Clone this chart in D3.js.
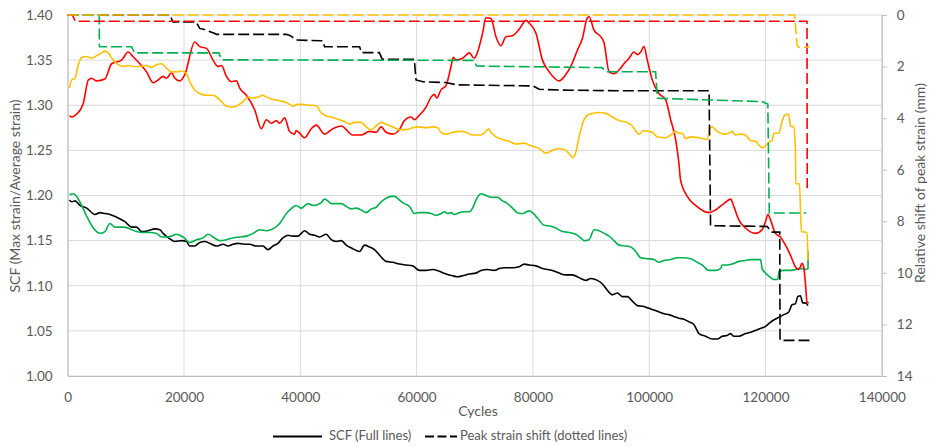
<!DOCTYPE html>
<html>
<head>
<meta charset="utf-8">
<script src="https://cdn.jsdelivr.net/npm/d3@7"></script>
<style>
  html, body { margin: 0; padding: 0; background: #fff; }
  svg text { font-family: Lato, "Open Sans", sans-serif; fill: #595959; }
</style>
</head>
<body>
<svg id="chart" width="932" height="446"></svg>
<script>
// ---- Data: [cycles, value] ----
// SCF (left axis), solid lines
const scfBlack = [[300,1.195],[690,1.193],[1250,1.194],[2110,1.189],[3260,1.186],[4690,1.179],[5550,1.181],[6400,1.180],[7260,1.179],[8410,1.176],[9840,1.171],[10990,1.165],[11850,1.165],[12700,1.160],[13840,1.161],[14990,1.163],[15850,1.162],[16410,1.158],[17560,1.152],[18420,1.149],[19570,1.150],[20430,1.149],[21000,1.144],[21850,1.144],[22710,1.148],[23570,1.149],[24430,1.147],[25580,1.144],[26710,1.146],[27570,1.144],[28430,1.146],[29290,1.147],[30440,1.146],[31300,1.146],[32450,1.144],[33580,1.144],[34440,1.140],[35300,1.144],[36150,1.147],[37010,1.153],[37870,1.156],[38730,1.155],[39590,1.155],[40170,1.158],[40740,1.161],[41600,1.157],[42460,1.156],[43310,1.154],[44460,1.157],[45320,1.151],[46180,1.149],[47040,1.150],[47900,1.145],[49030,1.141],[50180,1.138],[51040,1.145],[51900,1.143],[52760,1.140],[53610,1.134],[54760,1.127],[55900,1.126],[57050,1.124],[58200,1.123],[59330,1.122],[60480,1.117],[61630,1.117],[62760,1.118],[63910,1.116],[65060,1.113],[66200,1.111],[67050,1.110],[67910,1.111],[69060,1.113],[70210,1.114],[71070,1.117],[72200,1.118],[73350,1.117],[74210,1.119],[75070,1.120],[76500,1.120],[77650,1.121],[78500,1.124],[79360,1.123],[80510,1.122],[81650,1.119],[83360,1.117],[84510,1.114],[85660,1.112],[86800,1.112],[87950,1.109],[89100,1.106],[89950,1.108],[91090,1.106],[91950,1.102],[92800,1.095],[93660,1.090],[94520,1.092],[95380,1.088],[96240,1.088],[97100,1.083],[97950,1.078],[99100,1.077],[99960,1.075],[100820,1.073],[101680,1.071],[102540,1.069],[103400,1.068],[104250,1.066],[105110,1.064],[105970,1.063],[106830,1.060],[107690,1.057],[108550,1.047],[109700,1.044],[110830,1.041],[111690,1.041],[112550,1.044],[113400,1.045],[113990,1.047],[114550,1.044],[115410,1.044],[116560,1.047],[117700,1.049],[118850,1.052],[120000,1.055],[120560,1.058],[121420,1.062],[122280,1.065],[123140,1.068],[124000,1.071],[124560,1.079],[125150,1.080],[125540,1.088],[126000,1.089],[126400,1.081],[126860,1.081],[127310,1.078]];

const scfGreen = [[300,1.201],[960,1.202],[1550,1.199],[2400,1.189],[3260,1.177],[4400,1.164],[5550,1.158],[6400,1.160],[7260,1.169],[8120,1.165],[9550,1.165],[10700,1.163],[11850,1.160],[12980,1.159],[14130,1.159],[15280,1.158],[16140,1.154],[17000,1.154],[17850,1.155],[18710,1.157],[19850,1.154],[21000,1.148],[22150,1.151],[23280,1.153],[24140,1.157],[25000,1.154],[26150,1.150],[27300,1.151],[28430,1.153],[29580,1.154],[30730,1.155],[31860,1.158],[33010,1.162],[34160,1.161],[35300,1.163],[36450,1.169],[37600,1.180],[38730,1.187],[39310,1.189],[40170,1.186],[41300,1.191],[42160,1.189],[43020,1.190],[43600,1.192],[44170,1.196],[44740,1.194],[45320,1.191],[46180,1.191],[47040,1.191],[47900,1.188],[48750,1.185],[49610,1.186],[50470,1.184],[51330,1.181],[52190,1.185],[53050,1.187],[53900,1.193],[54760,1.197],[55620,1.199],[56190,1.199],[57050,1.195],[57900,1.191],[58760,1.188],[59620,1.180],[60480,1.181],[61630,1.181],[62490,1.180],[63350,1.178],[64200,1.180],[64770,1.182],[65340,1.180],[65920,1.181],[66490,1.179],[67350,1.181],[68200,1.182],[69060,1.182],[69630,1.186],[70210,1.195],[71070,1.202],[71930,1.200],[72790,1.198],[73920,1.198],[74780,1.194],[75640,1.191],[76500,1.186],[77350,1.181],[78210,1.180],[79360,1.183],[79930,1.181],[80790,1.175],[81940,1.167],[83090,1.166],[83950,1.164],[85080,1.160],[86230,1.159],[87380,1.157],[88240,1.153],[88800,1.150],[89660,1.151],[90520,1.162],[91380,1.161],[92240,1.158],[93100,1.155],[93950,1.150],[94810,1.145],[95960,1.144],[96820,1.143],[97680,1.138],[98540,1.131],[99670,1.130],[100820,1.129],[101680,1.126],[102540,1.128],[103690,1.129],[104830,1.131],[105980,1.131],[107120,1.130],[107980,1.127],[109110,1.123],[110260,1.117],[111410,1.117],[112270,1.119],[112550,1.123],[113410,1.123],[114260,1.124],[115410,1.127],[116560,1.128],[117420,1.129],[118280,1.129],[119140,1.129],[119420,1.119],[120000,1.114],[120680,1.110],[121420,1.107],[122100,1.107],[122330,1.116],[123140,1.117],[124290,1.117],[125150,1.118],[126000,1.119],[126400,1.119],[126860,1.118],[127310,1.119],[127330,1.138]];

const scfRed = [[300,1.288],[740,1.287],[1500,1.290],[2680,1.302],[3540,1.328],[4120,1.330],[4980,1.327],[6400,1.329],[7550,1.346],[9270,1.350],[10400,1.359],[11210,1.354],[12410,1.346],[13560,1.337],[14700,1.325],[15550,1.328],[16410,1.332],[17000,1.330],[17850,1.336],[18420,1.330],[19280,1.327],[20140,1.334],[21850,1.370],[22710,1.365],[23860,1.363],[25000,1.350],[25850,1.343],[26440,1.344],[27300,1.332],[28150,1.326],[29010,1.327],[29580,1.319],[30730,1.311],[32150,1.295],[33300,1.274],[34160,1.284],[35020,1.280],[35880,1.283],[36450,1.280],[37300,1.286],[38160,1.271],[39020,1.268],[39310,1.272],[39880,1.269],[40740,1.264],[41890,1.274],[42750,1.278],[44170,1.268],[45600,1.274],[47040,1.277],[49030,1.267],[50470,1.267],[51900,1.271],[53050,1.270],[53900,1.276],[54760,1.270],[55900,1.268],[57040,1.273],[57900,1.283],[59050,1.287],[59620,1.284],[60480,1.289],[61630,1.298],[62490,1.309],[63050,1.312],[63450,1.308],[64200,1.317],[65060,1.322],[65920,1.343],[66320,1.353],[66780,1.350],[67910,1.352],[69060,1.358],[69920,1.352],[70490,1.359],[71350,1.380],[71930,1.397],[72790,1.396],[73650,1.376],[74500,1.366],[75360,1.376],[76500,1.377],[77350,1.382],[77940,1.387],[78800,1.394],[79360,1.391],[80510,1.380],[81650,1.350],[82800,1.337],[84510,1.327],[85660,1.334],[86520,1.343],[87650,1.361],[88510,1.374],[89370,1.397],[89660,1.398],[90520,1.383],[91670,1.376],[92240,1.369],[93100,1.337],[93950,1.335],[94810,1.339],[95670,1.346],[96530,1.352],[97390,1.359],[97960,1.356],[98540,1.359],[99100,1.365],[99670,1.350],[100530,1.328],[101680,1.313],[102830,1.306],[103690,1.284],[104550,1.262],[105110,1.236],[105400,1.217],[106550,1.199],[107980,1.189],[110260,1.181],[111410,1.184],[112840,1.191],[113990,1.196],[114550,1.188],[115410,1.173],[116560,1.164],[118280,1.158],[119410,1.162],[120000,1.171],[120420,1.179],[120860,1.173],[121710,1.158],[122570,1.154],[123430,1.145],[124290,1.134],[125150,1.121],[125600,1.118],[126000,1.121],[126280,1.125],[126570,1.121],[126860,1.103],[127140,1.082],[127430,1.081]];

const scfOrange = [[300,1.319],[690,1.328],[1250,1.330],[1820,1.345],[2400,1.353],[3260,1.354],[4120,1.352],[4980,1.355],[5840,1.358],[6400,1.360],[6970,1.358],[7830,1.350],[8690,1.345],[9550,1.343],[10400,1.344],[11260,1.343],[12410,1.343],[13560,1.344],[14420,1.342],[15280,1.345],[16140,1.346],[17000,1.341],[17850,1.337],[18710,1.337],[19570,1.338],[20430,1.335],[21000,1.326],[21850,1.317],[22710,1.313],[23860,1.311],[25000,1.311],[26150,1.306],[27300,1.299],[28430,1.298],[29290,1.300],[30150,1.304],[31000,1.309],[31860,1.308],[32720,1.309],[33580,1.311],[34160,1.309],[35020,1.307],[36450,1.305],[37600,1.303],[38730,1.299],[39590,1.301],[40450,1.301],[41300,1.300],[42160,1.300],[43020,1.298],[43310,1.294],[44170,1.289],[45320,1.287],[46750,1.284],[47610,1.282],[48470,1.279],[49330,1.281],[50470,1.281],[51330,1.276],[52190,1.273],[53050,1.277],[53900,1.281],[54760,1.279],[55900,1.276],[57050,1.273],[58200,1.273],[59330,1.275],[60480,1.276],[61630,1.275],[62760,1.276],[63620,1.275],[64200,1.270],[65060,1.268],[66200,1.270],[67630,1.271],[68490,1.270],[69630,1.267],[71060,1.267],[71930,1.271],[72380,1.274],[72790,1.270],[73650,1.265],[74780,1.262],[75930,1.260],[77070,1.257],[78500,1.258],[79650,1.255],[81080,1.252],[82230,1.247],[83360,1.250],[84510,1.252],[85660,1.250],[86520,1.244],[86920,1.242],[87380,1.248],[87950,1.265],[88800,1.284],[89660,1.290],[91380,1.292],[92530,1.291],[93660,1.287],[94810,1.283],[96240,1.281],[97100,1.277],[98250,1.268],[99100,1.272],[99960,1.271],[100530,1.270],[101390,1.265],[102830,1.264],[103690,1.267],[104550,1.271],[105110,1.269],[105680,1.269],[106260,1.263],[107120,1.265],[108550,1.264],[109970,1.262],[110260,1.269],[110380,1.274],[110830,1.276],[111690,1.271],[112840,1.268],[113700,1.269],[114260,1.271],[114850,1.267],[115700,1.268],[116560,1.267],[117420,1.261],[118280,1.260],[119140,1.254],[119700,1.253],[120270,1.257],[120860,1.260],[121130,1.261],[121420,1.269],[122280,1.269],[122850,1.282],[123310,1.289],[124000,1.290],[124290,1.277],[124860,1.276],[125150,1.250],[125200,1.213],[125840,1.213],[126180,1.160],[127140,1.159],[127310,1.128]];

// Peak strain shift (right axis, mm), dashed lines
const shiftBlack = [[0,0],[17600,0],[18100,0.27],[22100,0.27],[22700,0.52],[23500,0.56],[25200,0.71],[25600,0.75],[37600,0.75],[38300,0.80],[39300,0.97],[43900,1.0],[44170,1.23],[50200,1.23],[50500,1.46],[53600,1.46],[54100,1.72],[59600,1.72],[59900,2.52],[61100,2.59],[65000,2.62],[67000,2.71],[80000,2.75],[81100,2.88],[84500,2.91],[95000,2.94],[110300,2.94],[110550,8.17],[120300,8.2],[121000,8.42],[122450,8.42],[122500,12.62],[127600,12.62]];
const shiftGreen = [[0,0],[5430,0],[5450,1.23],[10990,1.23],[11500,1.47],[26000,1.47],[26500,1.74],[69900,1.76],[70300,1.98],[91900,2.04],[92500,2.2],[101100,2.2],[101400,3.23],[119400,3.36],[120400,3.45],[120650,7.68],[127000,7.68]];
const shiftRed = [[0,0],[800,0],[1300,0.24],[127140,0.24],[127170,6.72]];
const shiftOrange = [[0,0],[125000,0],[125450,1.18],[125700,1.25],[127500,1.25]];

const xTicks = [0, 20000, 40000, 60000, 80000, 100000, 120000, 140000];
const scfTicks = [1.00, 1.05, 1.10, 1.15, 1.20, 1.25, 1.30, 1.35, 1.40];
const shiftTicks = [0, 2, 4, 6, 8, 10, 12, 14];

const colors = { black: "#000000", green: "#00B050", red: "#FF0000", orange: "#FFC000" };

const scfSeries = [
  { data: scfBlack, color: colors.black },
  { data: scfGreen, color: colors.green },
  { data: scfRed, color: colors.red },
  { data: scfOrange, color: colors.orange }
];
const shiftSeries = [
  { data: shiftBlack, color: colors.black },
  { data: shiftGreen, color: colors.green },
  { data: shiftRed, color: colors.red },
  { data: shiftOrange, color: colors.orange }
];

// ---- Layout ----
const plot = { left: 67.7, right: 881.8, top: 15, bottom: 376 };
const svg = d3.select("#chart");
const tickFont = "13.5px";
const titleFont = "14px";
const legendFont = "13px";

const x = d3.scaleLinear().domain([0, 140000]).range([plot.left, plot.right]);
const yL = d3.scaleLinear().domain([1.0, 1.4]).range([plot.bottom, plot.top]);
const yR = d3.scaleLinear().domain([0, 14]).range([plot.top, plot.bottom]);

const gridColor = "#d9d9d9";
const grid = svg.append("g");
grid.selectAll("line.h").data(scfTicks).join("line")
  .attr("x1", plot.left).attr("x2", plot.right)
  .attr("y1", d => yL(d)).attr("y2", d => yL(d))
  .attr("stroke", gridColor).attr("stroke-width", 1);
grid.selectAll("line.v").data(xTicks).join("line")
  .attr("x1", d => x(d)).attr("x2", d => x(d))
  .attr("y1", plot.top).attr("y2", plot.bottom)
  .attr("stroke", gridColor).attr("stroke-width", 1);

// Bottom axis (labels only)
const xAxis = svg.append("g").attr("transform", `translate(0,${plot.bottom})`)
  .call(d3.axisBottom(x).tickValues(xTicks).tickSize(0).tickPadding(16).tickFormat(d3.format("d")));
xAxis.select(".domain").attr("stroke", "#bfbfbf");
xAxis.selectAll("text").style("font-size", tickFont).attr("fill", "#595959");

// Left axis (labels only)
const leftAxis = svg.append("g").attr("transform", `translate(${plot.left},0)`)
  .call(d3.axisLeft(yL).tickValues(scfTicks).tickSize(0).tickPadding(15).tickFormat(d3.format(".2f")));
leftAxis.select(".domain").attr("stroke", "#bfbfbf");
leftAxis.selectAll("text").style("font-size", tickFont).attr("fill", "#595959");

// Right axis with outward ticks
const rightAxis = svg.append("g").attr("transform", `translate(${plot.right},0)`)
  .call(d3.axisRight(yR).tickValues(shiftTicks).tickSize(5).tickPadding(10).tickFormat(d3.format("d")));
rightAxis.select(".domain").attr("stroke", "#bfbfbf");
rightAxis.selectAll(".tick line").attr("stroke", "#bfbfbf");
rightAxis.selectAll("text").style("font-size", tickFont).attr("fill", "#595959");

// ---- Series ----
const lineL = d3.line().x(d => x(d[0])).y(d => yL(d[1])).curve(d3.curveMonotoneX);
const lineR = d3.line().x(d => x(d[0])).y(d => yR(d[1]));

svg.append("g").selectAll("path").data(scfSeries).join("path")
  .attr("d", d => lineL(d.data))
  .attr("fill", "none").attr("stroke", d => d.color)
  .attr("stroke-width", 1.6).attr("stroke-linejoin", "round");

svg.append("g").selectAll("path").data(shiftSeries).join("path")
  .attr("d", d => lineR(d.data))
  .attr("fill", "none").attr("stroke", d => d.color)
  .attr("stroke-width", 1.6).attr("stroke-dasharray", "11,4");

// ---- Titles ----
svg.append("text").attr("x", 478).attr("y", 412)
  .attr("text-anchor", "middle").attr("dominant-baseline", "middle")
  .style("font-size", titleFont).text("Cycles");

svg.append("text").attr("transform", "translate(16,196) rotate(-90)")
  .attr("text-anchor", "middle").attr("dominant-baseline", "middle")
  .style("font-size", titleFont).text("SCF (Max strain/Average strain)");

svg.append("text").attr("transform", "translate(921,183) rotate(-90)")
  .attr("text-anchor", "middle").attr("dominant-baseline", "middle")
  .style("font-size", titleFont).text("Relative shift of peak strain (mm)");

// ---- Legend ----
const legY = 436.5;
const legend = svg.append("g");
legend.append("line").attr("x1", 273).attr("x2", 322).attr("y1", legY).attr("y2", legY)
  .attr("stroke", "#000").attr("stroke-width", 2);
legend.append("text").attr("x", 329).attr("y", legY).attr("dominant-baseline", "middle")
  .style("font-size", legendFont).text("SCF (Full lines)");
legend.append("line").attr("x1", 425).attr("x2", 457).attr("y1", legY).attr("y2", legY)
  .attr("stroke", "#000").attr("stroke-width", 2).attr("stroke-dasharray", "9,3.5");
legend.append("text").attr("x", 460).attr("y", legY).attr("dominant-baseline", "middle")
  .style("font-size", legendFont).text("Peak strain shift (dotted lines)");
</script>
</body>
</html>
